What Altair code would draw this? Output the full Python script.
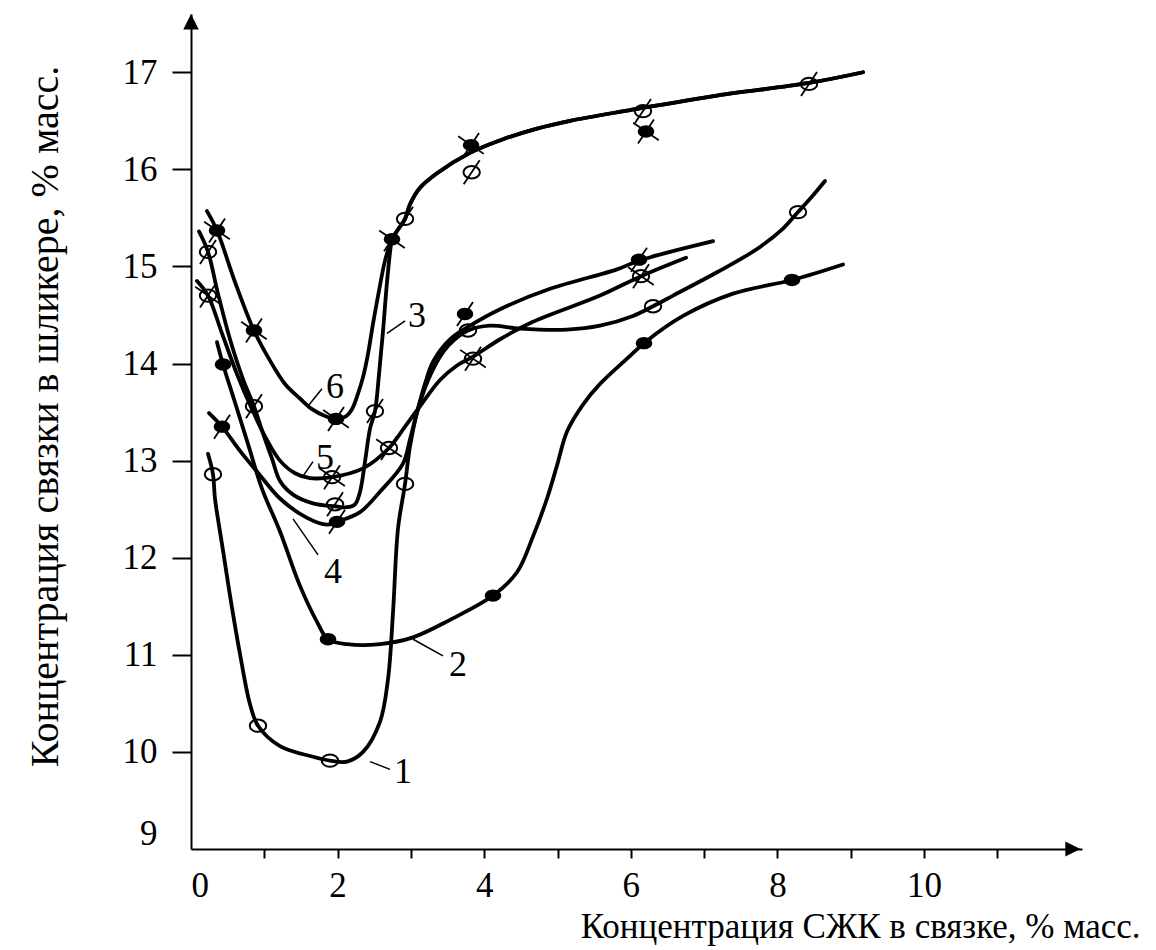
import altair as alt
import pandas as pd

FONT = "Liberation Serif"

# ---- curve traces (x: % СЖК, y: % связки) ----
c1_x = [0.232, 0.300, 0.327, 0.423, 0.532, 0.668, 0.805, 0.914, 1.214, 1.664, 1.896, 2.128, 2.347, 2.578, 2.688, 2.756, 2.824, 2.920, 2.988, 3.097, 3.288, 3.506, 3.779, 4.079, 4.488, 5.130, 5.580, 6.030, 6.303, 6.576, 7.176, 7.722, 8.076, 8.281, 8.472, 8.649]
c1_y = [13.07, 12.86, 12.61, 12.14, 11.61, 11.01, 10.49, 10.27, 10.06, 9.95, 9.91, 9.90, 10.00, 10.31, 10.75, 11.44, 12.30, 12.76, 13.15, 13.53, 13.92, 14.18, 14.34, 14.39, 14.36, 14.35, 14.39, 14.49, 14.59, 14.70, 14.94, 15.18, 15.39, 15.56, 15.72, 15.88]

c2_x = [0.355, 0.437, 0.600, 0.778, 0.969, 1.214, 1.487, 1.719, 1.869, 2.128, 2.578, 3.029, 3.533, 4.120, 4.447, 4.666, 4.857, 4.993, 5.130, 5.350, 5.580, 5.948, 6.180, 6.712, 7.394, 8.199, 8.895]
c2_y = [14.22, 13.99, 13.60, 13.17, 12.71, 12.27, 11.71, 11.34, 11.16, 11.11, 11.11, 11.18, 11.36, 11.61, 11.85, 12.22, 12.61, 12.95, 13.30, 13.58, 13.79, 14.05, 14.21, 14.49, 14.72, 14.86, 15.02]

c3_x = [0.109, 0.232, 0.368, 0.532, 0.709, 0.859, 0.982, 1.105, 1.214, 1.392, 1.664, 1.965, 2.128, 2.237, 2.306, 2.374, 2.442, 2.510, 2.565, 2.619, 2.674, 2.729]
c3_y = [15.36, 15.15, 14.72, 14.25, 13.84, 13.56, 13.28, 13.02, 12.79, 12.65, 12.56, 12.53, 12.52, 12.55, 12.68, 12.99, 13.33, 13.51, 13.89, 14.33, 14.84, 15.23]

c4_x = [0.246, 0.423, 0.668, 0.941, 1.214, 1.583, 1.856, 1.992, 2.306, 2.578, 2.892, 2.988, 3.083, 3.192, 3.302, 3.533, 3.806, 4.216, 4.898, 5.812, 6.112, 7.122]
c4_y = [13.49, 13.35, 13.10, 12.85, 12.61, 12.41, 12.34, 12.37, 12.47, 12.68, 12.97, 13.22, 13.50, 13.79, 14.02, 14.25, 14.39, 14.56, 14.77, 14.97, 15.06, 15.26]

c5_x = [0.082, 0.232, 0.423, 0.628, 0.832, 1.010, 1.214, 1.419, 1.623, 1.924, 2.347, 2.701, 2.920, 3.124, 3.397, 3.629, 3.847, 4.216, 4.666, 5.580, 6.139, 6.753]
c5_y = [14.85, 14.70, 14.31, 13.89, 13.53, 13.25, 13.00, 12.87, 12.82, 12.83, 12.92, 13.13, 13.35, 13.56, 13.83, 13.98, 14.07, 14.25, 14.43, 14.70, 14.90, 15.09]

c6_x = [0.218, 0.355, 0.600, 0.859, 1.078, 1.282, 1.487, 1.651, 1.828, 1.978, 2.101, 2.196, 2.278, 2.347, 2.415, 2.483, 2.565, 2.647]
c6_y = [15.57, 15.37, 14.84, 14.34, 14.03, 13.79, 13.64, 13.53, 13.46, 13.43, 13.45, 13.53, 13.69, 13.86, 14.10, 14.41, 14.75, 15.06]

# common upper branch shared by curves 3 and 6
top_x = [2.742, 2.824, 2.920, 2.988, 3.124, 3.356, 3.806, 4.257, 4.720, 5.171, 5.989, 7.176, 8.431, 9.168]
top_y = [15.28, 15.38, 15.49, 15.64, 15.81, 15.96, 16.17, 16.31, 16.42, 16.50, 16.61, 16.76, 16.89, 17.00]

# ---- experimental points ----
m1_x = [0.300, 0.914, 1.896, 2.920, 3.779, 6.303, 8.281]
m1_y = [12.86, 10.27, 9.91, 12.76, 14.34, 14.59, 15.56]
m2_x = [0.437, 1.869, 4.120, 6.180, 8.199]
m2_y = [13.99, 11.16, 11.61, 14.21, 14.86]
m3_x = [0.232, 0.859, 1.965, 2.510, 2.920, 3.829, 6.166, 8.431]
m3_y = [15.15, 13.56, 12.55, 13.51, 15.49, 15.97, 16.60, 16.88]
m4_x = [0.423, 1.992, 3.738, 6.112]
m4_y = [13.35, 12.37, 14.51, 15.07]
m5_x = [0.232, 1.924, 2.701, 3.847, 6.139]
m5_y = [14.70, 12.83, 13.13, 14.05, 14.90]
m6_x = [0.355, 0.859, 1.978, 2.742, 3.820, 6.207]
m6_y = [15.37, 14.34, 13.43, 15.28, 16.25, 16.39]

# ---- curve numbers and their leader strokes ----
lab_txt = ["1", "2", "3", "4", "5", "6"]
lab_x = [2.892, 3.643, 3.083, 1.937, 1.828, 1.965]
lab_y = [9.79, 10.89, 14.49, 11.85, 13.03, 13.76]
ld_x = [2.442, 3.029, 2.674, 1.392, 1.528, 1.583]
ld_y = [9.90, 11.16, 14.31, 12.40, 12.84, 13.55]
ld_x2 = [2.715, 3.438, 2.920, 1.733, 1.664, 1.787]
ld_y2 = [9.82, 10.99, 14.44, 12.03, 12.99, 13.74]

# axes
x_ticks = list(range(0, 12))
y_ticks = list(range(9, 18))
X_MAX = 12.155
Y_MIN, Y_MAX = 9, 17.6
arrow_x = [12.03]
arrow_y = [17.52]

# ---- build tables ----
curves = [
    ("1", c1_x, c1_y),
    ("2", c2_x, c2_y),
    ("3", c3_x + top_x, c3_y + top_y),
    ("4", c4_x, c4_y),
    ("5", c5_x, c5_y),
    ("6", c6_x + top_x, c6_y + top_y),
]
rows = []
for name, xs_, ys_ in curves:
    for i, (a, b) in enumerate(zip(xs_, ys_)):
        rows.append({"curve": name, "i": i, "x": a, "y": b})
lines_df = pd.DataFrame(rows)

marks = [
    ("o", m1_x, m1_y), ("f", m2_x, m2_y), ("o/", m3_x, m3_y),
    ("f/", m4_x, m4_y), ("oX", m5_x, m5_y), ("fX", m6_x, m6_y),
]
mrows = []
for kind, xs_, ys_ in marks:
    for a, b in zip(xs_, ys_):
        mrows.append({"kind": kind, "x": a, "y": b})
mk = pd.DataFrame(mrows)
open_df = mk[mk.kind.str.startswith("o")]
fill_df = mk[mk.kind.str.startswith("f")]
slash_df = mk[mk.kind.str.len() > 1]
back_df = mk[mk.kind.str.endswith("X")]

lab_df = pd.DataFrame({"t": lab_txt, "x": lab_x, "y": lab_y})
ld_df = pd.DataFrame({"x": ld_x, "y": ld_y, "x2": ld_x2, "y2": ld_y2})
xa_df = pd.DataFrame({"x": arrow_x, "y": [Y_MIN]})
ya_df = pd.DataFrame({"x": [0.0], "y": arrow_y})

ELL = ("M 1 0 C 1 0.414 0.552 0.75 0 0.75 C -0.552 0.75 -1 0.414 -1 0 "
       "C -1 -0.414 -0.552 -0.75 0 -0.75 C 0.552 -0.75 1 -0.414 1 0 Z")
SLASH = "M -1 1.5 L 1 -1.5"
BACK = "M -1.6 -1.1 L 1.6 1.1"
TRI_UP = "M 0 -1 L -1 1 L 1 1 Z"
TRI_RIGHT = "M 1 0 L -1 -1 L -1 1 Z"

xs = alt.Scale(domain=[0, X_MAX], nice=False, zero=False)
ys = alt.Scale(domain=[Y_MIN, Y_MAX], nice=False, zero=False)

x_axis = alt.Axis(
    values=x_ticks,
    labelExpr="datum.value % 2 == 0 ? datum.label : ''",
    title="Концентрация СЖК в связке, % масс.",
    titleX=949, titleY=88, titleAlign="right", titleBaseline="alphabetic",
    titleAnchor="end", titleAngle=0,
    titleFont=FONT, titleFontSize=35, titleFontWeight="normal", titleColor="black",
    labelFont=FONT, labelFontSize=35, labelColor="black", labelPadding=10,
    tickSize=9, tickWidth=2, tickColor="black",
    tickOpacity={"condition": {"test": "datum.value == 0", "value": 0}, "value": 1},
    domainColor="black", domainWidth=2, grid=False,
)
y_axis = alt.Axis(
    values=y_ticks,
    title="Концентрация связки в шликере, % масс.",
    titleX=-146, titleY=402, titleAngle=-90, titleAlign="center", titleBaseline="middle",
    titleFont=FONT, titleFontSize=40, titleFontWeight="normal", titleColor="black",
    labelFont=FONT, labelFontSize=35, labelColor="black", labelPadding=15,
    labelOffset={"condition": {"test": "datum.value == 9", "value": -16}, "value": 0},
    tickSize=19, tickWidth=2, tickColor="black",
    tickOpacity={"condition": {"test": "datum.value == 9", "value": 0}, "value": 1},
    domainColor="black", domainWidth=2, grid=False,
)

X = alt.X("x:Q", scale=xs, axis=x_axis)
Y = alt.Y("y:Q", scale=ys, axis=y_axis)

line_layer = alt.Chart(lines_df).mark_line(
    color="black", strokeWidth=3.8, interpolate="catmull-rom", strokeCap="round", strokeJoin="round"
).encode(x=X, y=Y, detail="curve:N", order="i:Q")

open_layer = alt.Chart(open_df).mark_point(
    shape=ELL, filled=False, stroke="black", strokeWidth=2, size=270, opacity=1
).encode(x=X, y=Y)
fill_layer = alt.Chart(fill_df).mark_point(
    shape=ELL, filled=True, fill="black", color="black", size=270, opacity=1
).encode(x=X, y=Y)
slash_layer = alt.Chart(slash_df).mark_point(
    shape=SLASH, filled=False, stroke="black", strokeWidth=1.8, size=256, opacity=1
).encode(x=X, y=Y)
back_layer = alt.Chart(back_df).mark_point(
    shape=BACK, filled=False, stroke="black", strokeWidth=1.8, size=256, opacity=1
).encode(x=X, y=Y)

lead_layer = alt.Chart(ld_df).mark_rule(color="black", strokeWidth=1.5).encode(
    x=X, y=Y, x2="x2:Q", y2="y2:Q"
)
text_layer = alt.Chart(lab_df).mark_text(
    font=FONT, fontSize=36, color="black", align="center", baseline="middle"
).encode(x=X, y=Y, text="t:N")

xarrow = alt.Chart(xa_df).mark_point(
    shape=TRI_RIGHT, filled=True, fill="black", size=225, opacity=1
).encode(x=X, y=Y)
yarrow = alt.Chart(ya_df).mark_point(
    shape=TRI_UP, filled=True, fill="black", size=240, opacity=1
).encode(x=X, y=Y)

chart = alt.layer(
    line_layer, open_layer, fill_layer, slash_layer, back_layer,
    lead_layer, text_layer, xarrow, yarrow,
).properties(
    width=891, height=835,
    padding={"left": 183, "top": 6, "right": 64, "bottom": 99},
    autosize=alt.AutoSizeParams(type="none"),
    background="white",
).configure_view(stroke=None)

chart.save("out.html", embed_options={"renderer": "svg", "actions": False})
